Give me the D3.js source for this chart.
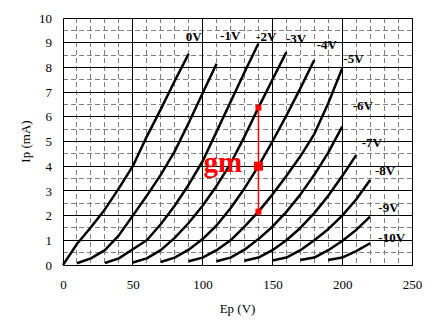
<!DOCTYPE html>
<html>
<head>
<meta charset="utf-8">
<script src="https://cdn.jsdelivr.net/npm/d3@7"></script>
<style>
  html, body { margin: 0; padding: 0; background: #fff; }
  svg { display: block; }
</style>
</head>
<body>
<svg id="chart" width="434" height="325"></svg>
<script>
// Triode plate characteristics: plate current Ip (mA) against plate voltage Ep (V),
// one curve for each grid bias.

const gridLabels = ["0V", "-1V", "-2V", "-3V", "-4V", "-5V", "-6V", "-7V", "-8V", "-9V", "-10V"];

// [Ep (V), Ip (mA)] samples for each grid bias
const curve0V   = [[0,0],[10,0.85],[20,1.53],[30,2.25],[40,3.1],[50,4.0],[60,5.2],[70,6.3],[80,7.45],[90,8.55]];
const curveM1V  = [[10,0.07],[20,0.27],[30,0.6],[40,1.2],[50,2.0],[60,2.8],[70,3.65],[80,4.6],[90,5.75],[100,6.95],[110,8.15]];
const curveM2V  = [[30,0.08],[40,0.27],[50,0.64],[60,1.0],[70,1.65],[80,2.4],[90,3.25],[100,4.2],[110,5.4],[120,6.6],[130,7.8],[140,8.97]];
const curveM3V  = [[50,0.1],[60,0.27],[70,0.6],[80,1.1],[90,1.7],[100,2.4],[110,3.2],[120,4.1],[130,5.2],[140,6.37],[150,7.5],[160,8.62]];
const curveM4V  = [[70,0.12],[80,0.3],[90,0.62],[100,1.05],[110,1.6],[120,2.3],[130,3.1],[140,4.0],[150,5.0],[160,6.05],[170,7.15],[180,8.3]];
const curveM5V  = [[90,0.15],[100,0.3],[110,0.6],[120,1.0],[130,1.55],[140,2.16],[150,2.85],[160,3.6],[170,4.4],[180,5.3],[190,6.55],[200,7.96]];
const curveM6V  = [[110,0.15],[120,0.3],[130,0.62],[140,1.05],[150,1.55],[160,2.15],[170,2.85],[180,3.65],[190,4.55],[200,5.6]];
const curveM7V  = [[130,0.17],[140,0.3],[150,0.6],[160,1.0],[170,1.5],[180,2.1],[190,2.8],[200,3.6],[210,4.45]];
const curveM8V  = [[150,0.18],[160,0.3],[170,0.6],[180,1.0],[190,1.45],[200,2.0],[210,2.65],[220,3.44]];
const curveM9V  = [[170,0.2],[180,0.3],[190,0.6],[200,0.97],[210,1.42],[220,1.96]];
const curveM10V = [[190,0.2],[200,0.3],[210,0.56],[220,0.88]];

const curves = [curve0V, curveM1V, curveM2V, curveM3V, curveM4V, curveM5V,
                curveM6V, curveM7V, curveM8V, curveM9V, curveM10V];

// where each bias label sits, in [Ep, Ip] units (text start, baseline)
const labelAt = [[88.0,9.07],[112.5,9.11],[138.3,9.08],[159.7,8.98],[181.7,8.73],
                 [200.8,8.17],[207.5,6.28],[214.0,4.79],[223.5,3.64],[225.9,2.16],[225.9,0.94]];

const xTicks = [0, 50, 100, 150, 200, 250];
const yTicks = [0, 1, 2, 3, 4, 5, 6, 7, 8, 9, 10];

// transconductance construction: at Ep = 140 V, between the -3V and -5V curves,
// with the operating point on the -4V curve
const gmEp = 140;
const gmUpper = "-3V", gmPoint = "-4V", gmLower = "-5V";
const gmLabelAt = [128.3, 3.75];

const plotLeft = 63, plotRight = 412, plotTop = 18, plotBottom = 265;
const serif = '"Liberation Serif", "Times New Roman", Times, serif';

const svg = d3.select("#chart");
const x = d3.scaleLinear().domain([0, 250]).range([plotLeft, plotRight]);
const y = d3.scaleLinear().domain([0, 10]).range([plotBottom, plotTop]);
const crisp = v => Math.floor(v) + 0.5;

// grid: dashed grey every 10 V / 0.5 mA, solid black every 50 V / 1 mA
const grid = svg.append("g");
const minorX = d3.range(10, 250, 10).filter(v => v % 50 !== 0);
const minorY = d3.range(0.5, 10, 1);
grid.selectAll(".mx").data(minorX).join("line")
  .attr("x1", d => crisp(x(d))).attr("x2", d => crisp(x(d)))
  .attr("y1", plotTop).attr("y2", plotBottom)
  .attr("stroke", "#808080").attr("stroke-dasharray", "5,3");
grid.selectAll(".my").data(minorY).join("line")
  .attr("y1", d => crisp(y(d))).attr("y2", d => crisp(y(d)))
  .attr("x1", plotLeft).attr("x2", plotRight)
  .attr("stroke", "#808080").attr("stroke-dasharray", "5,3");
grid.selectAll(".Mx").data(xTicks).join("line")
  .attr("x1", d => crisp(x(d))).attr("x2", d => crisp(x(d)))
  .attr("y1", crisp(plotTop)).attr("y2", crisp(plotBottom) + 0.5)
  .attr("stroke", "#000");
grid.selectAll(".My").data(yTicks).join("line")
  .attr("y1", d => crisp(y(d))).attr("y2", d => crisp(y(d)))
  .attr("x1", crisp(plotLeft)).attr("x2", crisp(plotRight) + 0.5)
  .attr("stroke", "#000");

// axes (labels only; the frame comes from the grid)
const ax = svg.append("g").attr("transform", `translate(${plotLeft},0)`)
  .call(d3.axisLeft(y).tickValues(yTicks).tickSize(0).tickPadding(11).tickFormat(d3.format("d")));
const bx = svg.append("g").attr("transform", `translate(0,${plotBottom})`)
  .call(d3.axisBottom(x).tickValues(xTicks).tickSize(0).tickPadding(15).tickFormat(d3.format("d")));
[ax, bx].forEach(g => {
  g.select(".domain").remove();
  g.selectAll("text").attr("font-family", serif).attr("font-size", 13).attr("fill", "#000");
});

svg.append("text").attr("x", (plotLeft + plotRight) / 2).attr("y", 313)
  .attr("text-anchor", "middle").attr("font-family", serif).attr("font-size", 13)
  .text("Ep (V)");
svg.append("text").attr("transform", `translate(29.5,${(plotTop + plotBottom) / 2}) rotate(-90)`)
  .attr("text-anchor", "middle").attr("font-family", serif).attr("font-size", 13)
  .text("Ip (mA)");

// plate curves
const line = d3.line().x(d => x(d[0])).y(d => y(d[1]));
svg.append("g").selectAll("path").data(curves).join("path")
  .attr("d", line).attr("fill", "none").attr("stroke", "#000")
  .attr("stroke-width", 2.5).attr("stroke-linejoin", "round");

// bias labels
svg.append("g").selectAll("text").data(gridLabels).join("text")
  .attr("x", (d, i) => x(labelAt[i][0])).attr("y", (d, i) => y(labelAt[i][1]))
  .attr("font-family", serif).attr("font-size", 13).attr("font-weight", "bold")
  .text(d => d);

// gm construction
const ipAt = (label, ep) => curves[gridLabels.indexOf(label)].find(p => p[0] === ep)[1];
const ipHi = ipAt(gmUpper, gmEp), ipMid = ipAt(gmPoint, gmEp), ipLo = ipAt(gmLower, gmEp);
const gm = svg.append("g");
gm.append("line").attr("x1", x(gmEp)).attr("x2", x(gmEp))
  .attr("y1", y(ipHi)).attr("y2", y(ipLo))
  .attr("stroke", "#f00").attr("stroke-width", 1.5);
[[ipHi, 6], [ipMid, 9], [ipLo, 6]].forEach(([v, s]) => {
  gm.append("rect").attr("x", x(gmEp) - s / 2).attr("y", y(v) - s / 2)
    .attr("width", s).attr("height", s).attr("fill", "#f00");
});
gm.append("text").attr("x", x(gmLabelAt[0])).attr("y", y(gmLabelAt[1]))
  .attr("text-anchor", "end").attr("font-family", serif).attr("font-size", 29)
  .attr("font-weight", "bold").attr("fill", "#f00").text("gm");
</script>
</body>
</html>
